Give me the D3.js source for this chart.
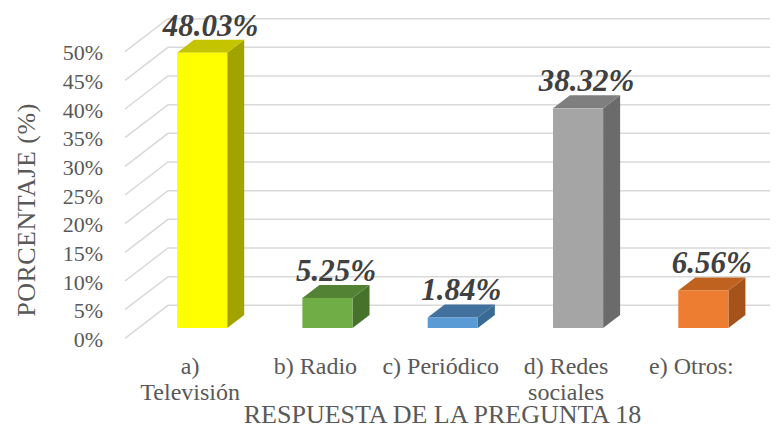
<!DOCTYPE html>
<html>
<head>
<meta charset="utf-8">
<script src="https://cdn.jsdelivr.net/npm/d3@7"></script>
<style>
  body { margin: 0; background: #fff; }
  svg, svg text, svg tspan { font-family: 'Liberation Serif', 'Times New Roman', Times, serif; }
</style>
</head>
<body>
<svg id="chart" width="784" height="426"></svg>
<script>
const categories = ["a) Televisión", "b) Radio", "c) Periódico", "d) Redes sociales", "e) Otros:"];
const catLines = [["a)", "Televisión"], ["b) Radio"], ["c) Periódico"], ["d) Redes", "sociales"], ["e) Otros:"]];
const values = [48.03, 5.25, 1.84, 38.32, 6.56];
const fronts = ["#FFFF00", "#70AD47", "#5B9BD5", "#A5A5A5", "#ED7D31"];
const tops   = ["#C4C400", "#548235", "#41719C", "#7F7F7F", "#C0621F"];
const sides  = ["#A3A300", "#46722B", "#386A96", "#6B6B6B", "#A5521B"];

const FONT = "Liberation Serif";
const svg = d3.select("#chart").attr("font-family", FONT);

// 3D offset of the bars' depth
const dx = 17, dy = -13;

let x = d3.scaleBand()
    .domain(categories)
    .range([139.5, 766])
    .paddingInner(0.6)
    .paddingOuter(0.3);

let y = d3.scaleLinear()
    .domain([0, 50])
    .range([328, 41.4]);

const yBack = v => y(v) - 22.7;

// back wall gridlines with the slanted left side
let ticks = y.ticks(10);
svg.append("g").selectAll("path")
  .data(ticks)
  .enter().append("path")
    .attr("d", function(d) { return "M125," + (yBack(d) + 33) + "L168," + yBack(d) + "L770," + yBack(d); })
    .attr("fill", "none")
    .attr("stroke", "#D9D9D9")
    .attr("stroke-width", 1.5);

svg.append("g").selectAll("text")
  .data(ticks)
  .enter().append("text")
    .attr("x", 103)
    .attr("y", function(d) { return yBack(d) + 34; })
    .attr("dy", "0.35em")
    .attr("text-anchor", "end")
    .attr("fill", "#595959")
    .attr("font-family", FONT)
    .style("font-size", "22px")
    .text(function(d) { return d + "%"; });

// bars
let bars = svg.append("g").selectAll("g")
  .data(values)
  .enter().append("g");

bars.append("path")
    .attr("fill", function(d, i) { return sides[i]; })
    .attr("d", function(d, i) {
      let x1 = x(categories[i]) + x.bandwidth();
      return "M" + x1 + "," + y(0) + "L" + x1 + "," + y(d) + "l" + dx + "," + dy + "L" + (x1 + dx) + "," + (y(0) + dy) + "Z";
    });

bars.append("path")
    .attr("fill", function(d, i) { return tops[i]; })
    .attr("d", function(d, i) {
      let x0 = x(categories[i]);
      return "M" + x0 + "," + y(d) + "l" + dx + "," + dy + "h" + x.bandwidth() + "l" + (-dx) + "," + (-dy) + "Z";
    });

bars.append("rect")
    .attr("fill", function(d, i) { return fronts[i]; })
    .attr("x", function(d, i) { return x(categories[i]); })
    .attr("y", function(d) { return y(d); })
    .attr("width", x.bandwidth())
    .attr("height", function(d) { return y(0) - y(d); });

bars.append("text")
    .attr("x", function(d, i) { return x(categories[i]) + x.bandwidth() / 2 + dx / 2; })
    .attr("y", function(d) { return y(d) + dy - 4; })
    .attr("text-anchor", "middle")
    .attr("fill", "#404040")
    .attr("font-family", FONT)
    .style("font-size", "31px")
    .style("font-weight", "bold")
    .style("font-style", "italic")
    .text(function(d) { return d.toFixed(2) + "%"; });

// category labels
let cats = svg.append("g").selectAll("text")
  .data(catLines)
  .enter().append("text")
    .attr("text-anchor", "middle")
    .attr("fill", "#595959")
    .attr("font-family", FONT)
    .style("font-size", "24px")
    .attr("transform", function(d, i) { return "translate(" + (x(categories[i]) + x.bandwidth() / 2 - 12) + ",374)"; });

cats.selectAll("tspan")
  .data(function(d) { return d; })
  .enter().append("tspan")
    .attr("x", 0)
    .attr("y", function(d, j) { return j * 26; })
    .text(function(d) { return d; });

// axis titles
svg.append("text")
    .attr("x", 442.5)
    .attr("y", 422.5)
    .attr("text-anchor", "middle")
    .attr("fill", "#595959")
    .attr("font-family", FONT)
    .style("font-size", "26px")
    .text("RESPUESTA DE LA PREGUNTA 18");

svg.append("text")
    .attr("transform", "translate(35,210) rotate(-90)")
    .attr("text-anchor", "middle")
    .attr("fill", "#595959")
    .attr("font-family", FONT)
    .style("font-size", "26px")
    .style("letter-spacing", "0.5px")
    .text("PORCENTAJE (%)");
</script>
</body>
</html>
